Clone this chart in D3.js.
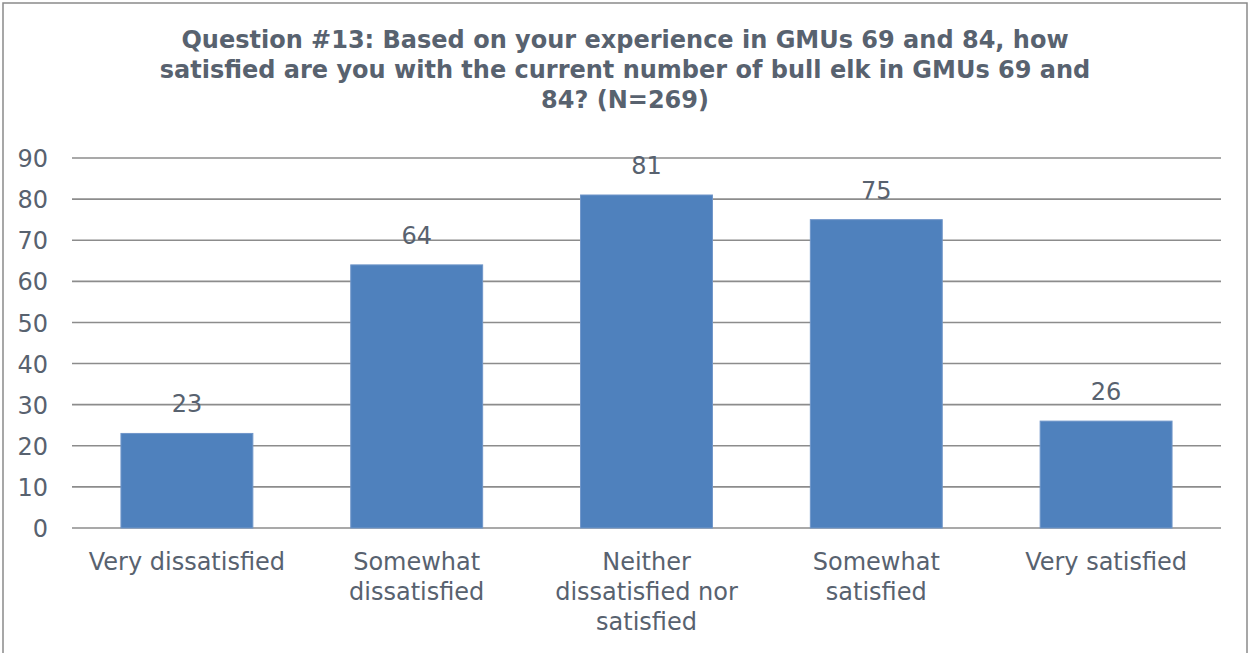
<!DOCTYPE html>
<html>
<head>
<meta charset="utf-8">
<script src="https://cdn.jsdelivr.net/npm/d3@7"></script>
<style>
  html, body { margin: 0; padding: 0; background: #fff; }
  svg { display: block; }
  text { font-family: "DejaVu Sans", sans-serif; fill: #58626f; }
</style>
</head>
<body>
<svg id="chart" width="1250" height="653"></svg>
<script>
// Survey responses, Question #13
const titleLines = [
  "Question #13: Based on your experience in GMUs 69 and 84, how",
  "satisfied are you with the current number of bull elk in GMUs 69 and",
  "84? (N=269)"
];
const categories = [
  "Very dissatisfied",
  "Somewhat dissatisfied",
  "Neither dissatisfied nor satisfied",
  "Somewhat satisfied",
  "Very satisfied"
];
const counts = [23, 64, 81, 75, 26];
const yTicks = [0, 10, 20, 30, 40, 50, 60, 70, 80, 90];

const W = 1250, H = 653;
const margin = { left: 72, right: 29, top: 158, bottom: 125 };
const fontSize = 24;
const svg = d3.select("#chart");

// frame
svg.append("rect")
  .attr("x", 3).attr("y", 3).attr("width", W - 6).attr("height", H + 10)
  .attr("fill", "#fff").attr("stroke", "#8a8a8a").attr("stroke-width", 1.5);

const x = d3.scaleBand()
  .domain(categories)
  .range([margin.left, W - margin.right])
  .paddingInner(0.426)
  .paddingOuter(0.213);

const y = d3.scaleLinear()
  .domain([0, 90])
  .range([H - margin.bottom, margin.top]);

// gridlines
svg.append("g")
  .selectAll("line")
  .data(yTicks)
  .join("line")
  .attr("x1", margin.left).attr("x2", W - margin.right)
  .attr("y1", d => y(d)).attr("y2", d => y(d))
  .attr("stroke", "#8c8c8c").attr("stroke-width", 1.6);

// y axis labels
const yAxis = d3.axisLeft(y).tickValues(yTicks).tickSize(0).tickPadding(0);
const yg = svg.append("g").attr("transform", `translate(${margin.left - 24},0)`).call(yAxis);
yg.select(".domain").remove();
yg.selectAll("text")
  .attr("font-size", fontSize)
  .attr("font-family", null)
  .attr("fill", "#58626f")
  .attr("dy", "0.36em");

// bars
svg.append("g")
  .selectAll("rect")
  .data(counts)
  .join("rect")
  .attr("x", (d, i) => x(categories[i]))
  .attr("width", x.bandwidth())
  .attr("y", d => y(d))
  .attr("height", d => y(0) - y(d))
  .attr("fill", "#4f81bd")
  .attr("stroke", "#7096c9").attr("stroke-width", 1);

// value labels
svg.append("g")
  .selectAll("text")
  .data(counts)
  .join("text")
  .attr("x", (d, i) => x(categories[i]) + x.bandwidth() / 2)
  .attr("y", d => y(d) - 21)
  .attr("text-anchor", "middle")
  .attr("font-size", fontSize)
  .text(d => d);

// category labels, wrapped to a fixed width
const maxLabelWidth = 208;
const catG = svg.append("g");
categories.forEach(c => {
  const cx = x(c) + x.bandwidth() / 2;
  const t = catG.append("text")
    .attr("x", cx)
    .attr("y", y(0) + 42)
    .attr("text-anchor", "middle")
    .attr("font-size", fontSize);
  const words = c.split(" ");
  let line = [];
  let tspan = t.append("tspan").attr("x", cx).attr("dy", 0);
  words.forEach(w => {
    line.push(w);
    tspan.text(line.join(" "));
    if (tspan.node().getComputedTextLength() > maxLabelWidth && line.length > 1) {
      line.pop();
      tspan.text(line.join(" "));
      line = [w];
      tspan = t.append("tspan").attr("x", cx).attr("dy", 30).text(w);
    }
  });
});

// title
svg.append("text")
  .attr("x", W / 2)
  .attr("y", 48)
  .attr("text-anchor", "middle")
  .attr("font-size", fontSize)
  .attr("font-weight", "bold")
  .selectAll("tspan")
  .data(titleLines)
  .join("tspan")
  .attr("x", W / 2)
  .attr("dy", (d, i) => i === 0 ? 0 : 30)
  .text(d => d);
</script>
</body>
</html>
